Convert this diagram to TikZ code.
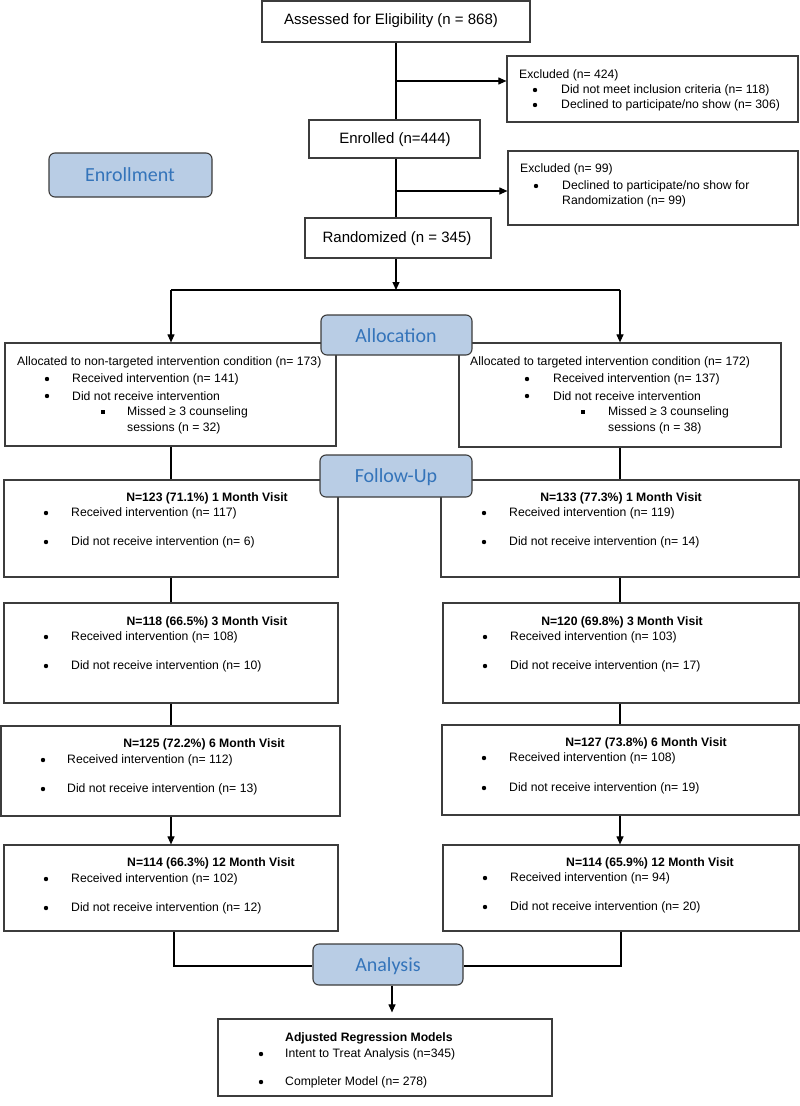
\documentclass[tikz,border=0pt]{standalone}
\usepackage{fontspec}
\setmainfont{Liberation Sans}
\newfontfamily\calib{Carlito}
\usetikzlibrary{fit,arrows.meta}
\definecolor{lblfill}{RGB}{185,205,229}
\definecolor{lbltext}{RGB}{52,116,186}
\definecolor{boxline}{RGB}{60,60,60}
\tikzset{
  box/.style={draw=boxline, line width=1.2pt, inner sep=0pt, fill=white},
  lbl/.style={draw=boxline, line width=1.1pt, rounded corners=6pt, fill=lblfill, inner sep=0pt},
  lbltxt/.style={inner sep=0pt, text=lbltext, font=\calib\fontsize{20}{24}\selectfont},
  big/.style={inner sep=0pt, font=\fontsize{15}{18}\selectfont},
  txt/.style={anchor=west, inner sep=0pt, font=\fontsize{12.2}{14}\selectfont},
  ttl/.style={inner sep=0pt, font=\bfseries\fontsize{12.2}{14}\selectfont},
  conn/.style={draw=black, line width=1.1pt},
  arr/.style={conn, -{Triangle[length=8pt,width=7pt]}}
}
\newcommand{\bitem}[5]{% name, bullet x, text x, y, text
  \fill (#2,#4) circle (2.2pt);
  \node[txt] (#1) at (#3,#4) {#5};}
\newcommand{\sitem}[5]{%
  \fill (#2-2,#4-2) rectangle (#2+2,#4+2);
  \node[txt] (#1) at (#3,#4) {#5};}
\begin{document}
\begin{tikzpicture}[x=1pt,y=-1pt]
\useasboundingbox (0,0) rectangle (800,1106);
\fill[white] (0,0) rectangle (800,1106);

\coordinate (cm) at (396,0);

% ---- enrollment section ----
\node[box, fit={(262,1)(530,42)}] (assess) {};
\node[big] (assesst) at (391,21) {Assessed for Eligibility (n = 868)};
\node[box, fit={(507,56)(798,122)}] (excl1) {};
\node[txt] (ex1t) at (519,75) {Excluded (n= 424)};
\bitem{ex1a}{535}{561}{90}{Did not meet inclusion criteria (n= 118)}
\bitem{ex1b}{535}{561}{105}{Declined to participate/no show (n= 306)}

\node[box, fit={(309,120)(480,158)}] (enrol) {};
\node[big] (enrolt) at (395,140) {Enrolled (n=444)};
\node[box, fit={(508,151)(798,225)}] (excl2) {};
\node[txt] (ex2t) at (520,169) {Excluded (n= 99)};
\bitem{ex2a}{536}{562}{186}{Declined to participate/no show for}
\node[txt] (ex2b) at (562,201) {Randomization (n= 99)};

\node[box, fit={(305,218)(491,258)}] (rand) {};
\node[big] (randt) at (397,239) {Randomized (n = 345)};

\coordinate (b1) at (396,81);
\coordinate (b2) at (396,191);
\draw[conn] (assess.south -| cm) -- (enrol.north -| cm);
\draw[arr] (b1) -- (b1 -| excl1.west);
\draw[conn] (enrol.south -| cm) -- (rand.north -| cm);
\draw[arr] (b2) -- (b2 -| excl2.west);

% split line
\coordinate (split) at (396,290);
\coordinate (sl) at (171,290);
\coordinate (sr) at (620,290);
\draw[arr] (rand.south -| cm) -- (split);
\draw[conn] (sl) -- (sr);

% ---- allocation ----
\node[box, fit={(5,343)(336,446)}] (lalloc) {};
\node[txt] (la0) at (17,362) {Allocated to non-targeted intervention condition (n= 173)};
\bitem{la1}{47}{72}{379}{Received intervention (n= 141)}
\bitem{la2}{47}{72}{396}{Did not receive intervention}
\sitem{la3}{103}{127}{412}{Missed ≥ 3 counseling}
\node[txt] (la4) at (127,428) {sessions (n = 32)};

\node[box, fit={(459,343)(781,447)}] (ralloc) {};
\node[txt] (ra0) at (470,362) {Allocated to targeted intervention condition (n= 172)};
\bitem{ra1}{527}{553}{379}{Received intervention (n= 137)}
\bitem{ra2}{527}{553}{396}{Did not receive intervention}
\sitem{ra3}{583}{608}{412}{Missed ≥ 3 counseling}
\node[txt] (ra4) at (608,428) {sessions (n = 38)};

\draw[arr] (sl) -- (lalloc.north -| sl);
\draw[arr] (sr) -- (ralloc.north -| sr);

% ---- follow-up boxes ----
\node[box, fit={(4,480)(338,577)}] (l1) {};
\node[ttl] (l1t) at (207,498) {N=123 (71.1\%) 1 Month Visit};
\bitem{l1a}{46}{71}{513}{Received intervention (n= 117)}
\bitem{l1b}{46}{71}{542}{Did not receive intervention (n= 6)}

\node[box, fit={(441,480)(799,577)}] (r1) {};
\node[ttl] (r1t) at (621,498) {N=133 (77.3\%) 1 Month Visit};
\bitem{r1a}{484}{509}{513}{Received intervention (n= 119)}
\bitem{r1b}{484}{509}{542}{Did not receive intervention (n= 14)}

\node[box, fit={(4,603)(338,703)}] (l3) {};
\node[ttl] (l3t) at (207,622) {N=118 (66.5\%) 3 Month Visit};
\bitem{l3a}{46}{71}{637}{Received intervention (n= 108)}
\bitem{l3b}{46}{71}{666}{Did not receive intervention (n= 10)}

\node[box, fit={(443,603)(799,703)}] (r3) {};
\node[ttl] (r3t) at (622,622) {N=120 (69.8\%) 3 Month Visit};
\bitem{r3a}{485}{510}{637}{Received intervention (n= 103)}
\bitem{r3b}{485}{510}{666}{Did not receive intervention (n= 17)}

\node[box, fit={(1,726)(340,816)}] (l6) {};
\node[ttl] (l6t) at (204,744) {N=125 (72.2\%) 6 Month Visit};
\bitem{l6a}{43}{67}{760}{Received intervention (n= 112)}
\bitem{l6b}{43}{67}{789}{Did not receive intervention (n= 13)}

\node[box, fit={(442,725)(799,815)}] (r6) {};
\node[ttl] (r6t) at (646,743) {N=127 (73.8\%) 6 Month Visit};
\bitem{r6a}{484}{509}{758}{Received intervention (n= 108)}
\bitem{r6b}{484}{509}{788}{Did not receive intervention (n= 19)}

\node[box, fit={(4,845)(338,931)}] (l12) {};
\node[ttl] (l12t) at (211,863) {N=114 (66.3\%) 12 Month Visit};
\bitem{l12a}{46}{71}{879}{Received intervention (n= 102)}
\bitem{l12b}{46}{71}{908}{Did not receive intervention (n= 12)}

\node[box, fit={(443,845)(799,931)}] (r12) {};
\node[ttl] (r12t) at (650,863) {N=114 (65.9\%) 12 Month Visit};
\bitem{r12a}{485}{510}{878}{Received intervention (n= 94)}
\bitem{r12b}{485}{510}{907}{Did not receive intervention (n= 20)}

% column connectors
\coordinate (cl) at (171,0);
\coordinate (cr) at (620,0);
\draw[conn] (lalloc.south -| cl) -- (l1.north -| cl);
\draw[conn] (ralloc.south -| cr) -- (r1.north -| cr);
\draw[conn] (l1.south -| cl) -- (l3.north -| cl);
\draw[conn] (r1.south -| cr) -- (r3.north -| cr);
\draw[conn] (l3.south -| cl) -- (l6.north -| cl);
\draw[conn] (r3.south -| cr) -- (r6.north -| cr);
\draw[arr] (l6.south -| cl) -- (l12.north -| cl);
\draw[arr] (r6.south -| cr) -- (r12.north -| cr);

% ---- analysis ----
\node[box, fit={(218,1019)(552,1096)}] (final) {};
\node[ttl, anchor=west] (fint) at (285,1038) {Adjusted Regression Models};
\bitem{fa}{261}{285}{1054}{Intent to Treat Analysis (n=345)}
\bitem{fb}{261}{285}{1082}{Completer Model (n= 278)}

\coordinate (al) at (174,0);
\coordinate (ar) at (621,0);
\coordinate (ay) at (0,966);
\coordinate (ac) at (392,0);

% phase labels
\node[lbl, fit={(49,153)(212,197)}] (enrollment) {};
\node[lbltxt] (enrollmentt) at (130,175) {Enrollment};
\node[lbl, fit={(321,315)(472,355)}] (allocation) {};
\node[lbltxt] (allocationt) at (396,336) {Allocation};
\node[lbl, fit={(320,455)(472,497)}] (followup) {};
\node[lbltxt] (followupt) at (396,477) {Follow-Up};
\node[lbl, fit={(313,944)(463,985)}] (analysis) {};
\node[lbltxt] (analysist) at (388,966) {Analysis};

\draw[conn] (l12.south -| al) -- (al |- ay) -- (analysis.west |- ay);
\draw[conn] (r12.south -| ar) -- (ar |- ay) -- (analysis.east |- ay);
\draw[arr, shorten >=6pt] (analysis.south -| ac) -- (final.north -| ac);
\end{tikzpicture}
\end{document}
